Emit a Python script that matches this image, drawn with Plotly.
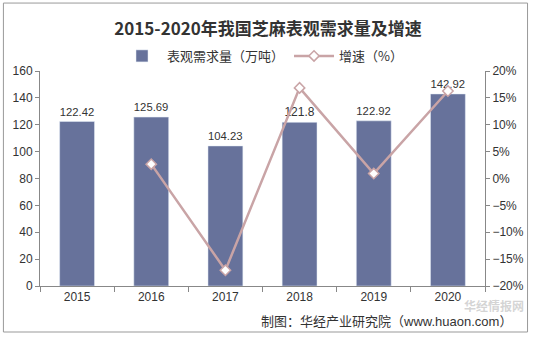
import plotly.graph_objects as go

years = ["2015", "2016", "2017", "2018", "2019", "2020"]
demand = [122.42, 125.69, 104.23, 121.8, 122.92, 142.92]
growth_years = ["2016", "2017", "2018", "2019", "2020"]
growth = [2.67, -17.07, 16.86, 0.92, 16.28]
demand_labels = ["122.42", "125.69", "104.23", "121.8", "122.92", "142.92"]

FONT = "Liberation Sans, Noto Sans CJK SC, sans-serif"
bar_color = "#67729B"
line_color = "#C9A4A6"

fig = go.Figure()
fig.add_trace(go.Bar(
    x=years, y=demand, name="表观需求量（万吨）",
    marker_color=bar_color, width=0.47,
    text=demand_labels, textposition="outside", cliponaxis=False,
    textfont=dict(size=12, color="#333333", family=FONT),
))
fig.add_trace(go.Scatter(
    x=growth_years, y=growth, name="增速（%）", yaxis="y2",
    mode="lines+markers",
    line=dict(color=line_color, width=2.5),
    marker=dict(symbol="diamond", size=8, color="white",
                line=dict(color=line_color, width=1.5)),
))

fig.update_layout(
    width=536, height=337, autosize=False,
    margin=dict(l=40, r=46, t=71, b=51),
    paper_bgcolor="white", plot_bgcolor="white",
    font=dict(family=FONT, size=12, color="#333333"),
    title=dict(text="<b>2015-2020年我国芝麻表观需求量及增速</b>",
               x=0.5, xanchor="center", y=0.915, yanchor="middle",
               font=dict(size=17, color="#333333",
                         family="Noto Sans CJK SC, sans-serif")),
    legend=dict(orientation="h", x=0.5, xanchor="center", y=1.07,
                yanchor="middle", font=dict(size=13, family="Noto Sans CJK SC"),
                itemwidth=40, traceorder="normal"),
    showlegend=True,
    xaxis=dict(type="category", showline=True, linecolor="#888888",
               ticks="outside", tickson="boundaries", ticklen=5,
               tickcolor="#888888", showgrid=False,
               tickfont=dict(size=12, color="#333333")),
    yaxis=dict(range=[0, 160], dtick=20, showline=True, linecolor="#888888",
               ticks="outside", ticklen=4, tickcolor="#888888",
               showgrid=False, zeroline=False,
               tickfont=dict(size=12, color="#333333")),
    yaxis2=dict(range=[-20, 20], dtick=5, overlaying="y", side="right",
                ticksuffix="%", showline=True, linecolor="#888888",
                ticks="outside", ticklen=4, tickcolor="#888888",
                showgrid=False, zeroline=False,
                tickfont=dict(size=12, color="#333333")),
)

# outer frame
fig.add_shape(type="rect", xref="paper", yref="paper",
              x0=-0.0822, x1=1.0956, y0=-0.214, y1=1.316,
              line=dict(color="#999999", width=1), fillcolor="rgba(0,0,0,0)",
              layer="below")

# watermark
fig.add_annotation(text="<b>华经情报网</b>", xref="paper", yref="paper",
                   x=1.092, y=-0.09, xanchor="right", yanchor="middle",
                   showarrow=False,
                   font=dict(size=12, color="rgba(170,170,170,0.5)",
                             family="Noto Sans CJK SC"))
# source
fig.add_annotation(text="制图：华经产业研究院（www.huaon.com）",
                   xref="paper", yref="paper", x=1.065, y=-0.165,
                   xanchor="right", yanchor="middle", showarrow=False,
                   font=dict(size=13, color="#333333",
                             family="Liberation Sans, Noto Sans CJK SC, sans-serif"))

fig.write_html("out.html")
